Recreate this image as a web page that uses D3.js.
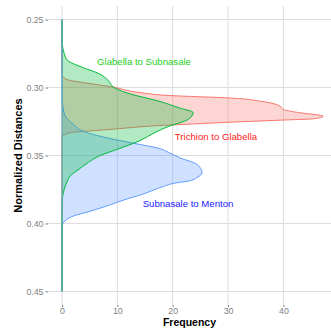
<!DOCTYPE html>
<html lang="en">
<head>
  <meta charset="UTF-8" />
  <title>Normalized distances – density</title>
  <script src="https://d3js.org/d3.v7.min.js"></script>
  <style>
    body { margin: 0; background: #fff; }
    svg { display: block; font-family: "Liberation Sans", Arial, sans-serif; }
    .tick text { fill: #7f7f7f; font-size: 8.8px; }
    .tick line { stroke: #7f7f7f; }
    .axis-title { font-weight: bold; font-size: 11px; fill: #000; }
  </style>
</head>
<body>
  <svg width="331" height="328"></svg>

  <script>
    // Glabella to Subnasale
    const glabDist = [0.25, 0.262, 0.266, 0.27, 0.275, 0.28, 0.285, 0.29, 0.295, 0.30, 0.305, 0.31, 0.315, 0.3184, 0.3235, 0.3287, 0.3331, 0.339, 0.3456, 0.35, 0.355, 0.36, 0.365, 0.37, 0.375, 0.38, 0.385, 0.39, 0.395, 0.45];
    const glabFreq = [0, 0, 0.03, 0.12, 0.4, 1.0, 3.6, 6.8, 8.4, 9.4, 12.6, 17.5, 21.2, 23.7, 22.8, 19.2, 16.8, 14.1, 9.9, 6.9, 4.8, 3.1, 1.5, 0.85, 0.4, 0.12, 0.04, 0.01, 0, 0];

    // Trichion to Glabella
    const trichDist = [0.25, 0.288, 0.2905, 0.2917, 0.2941, 0.2971, 0.2995, 0.3037, 0.3059, 0.3077, 0.31, 0.3118, 0.3138, 0.3162, 0.3182, 0.3211, 0.323, 0.324, 0.3255, 0.3268, 0.3278, 0.3289, 0.3304, 0.3318, 0.3329, 0.3345, 0.3368, 0.45];
    const trichFreq = [0, 0, 0.03, 0.15, 0.9, 5.1, 9.0, 14.1, 19.5, 30.4, 35.8, 38.2, 39.4, 40, 42.4, 47.2, 45.4, 39.4, 30.4, 23.7, 18.3, 14.1, 9.9, 5.5, 2.0, 0.6, 0, 0];

    // Subnasale to Menton
    const subDist = [0.25, 0.305, 0.31, 0.315, 0.3211, 0.327, 0.3321, 0.337, 0.3419, 0.3445, 0.348, 0.3517, 0.3566, 0.3627, 0.3662, 0.3689, 0.3701, 0.3725, 0.375, 0.3786, 0.3824, 0.386, 0.391, 0.3946, 0.3983, 0.402, 0.405, 0.45];
    const subFreq = [0, 0, 0.05, 0.2, 0.6, 2.0, 3.8, 8.1, 14.1, 17.3, 19.4, 21.3, 24.4, 25.3, 24.4, 22.8, 20.7, 18.5, 16.8, 14.5, 11.4, 8.9, 5.1, 2.0, 0.5, 0.05, 0, 0];

    const xTicks = [0, 10, 20, 30, 40];
    const yTicks = [0.25, 0.30, 0.35, 0.40, 0.45];

    const series = [
      { name: "Trichion to Glabella", dist: trichDist, freq: trichFreq, color: "#F8766D", labelColor: "#ff1a1a", lx: 216, ly: 136 },
      { name: "Subnasale to Menton", dist: subDist, freq: subFreq, color: "#619CFF", labelColor: "#1a1aff", lx: 188, ly: 203 },
      { name: "Glabella to Subnasale", dist: glabDist, freq: glabFreq, color: "#00BA38", labelColor: "#1ecf1e", lx: 144, ly: 61 }
    ];

    const svg = d3.select("svg");
    const panel = { left: 48, right: 331, top: 6, bottom: 305 };

    const x = d3.scaleLinear().domain([-2.53, 48.6]).range([panel.left, panel.right]);
    const y = d3.scaleLinear().domain([0.24, 0.46]).range([panel.top, panel.bottom]);

    // grid
    const grid = svg.append("g");
    grid.selectAll(".gx").data(xTicks).enter().append("line")
      .attr("x1", d => x(d)).attr("x2", d => x(d))
      .attr("y1", panel.top).attr("y2", panel.bottom)
      .attr("stroke", "#dcdcdc").attr("stroke-width", 1);
    grid.selectAll(".gy").data(yTicks).enter().append("line")
      .attr("x1", panel.left).attr("x2", panel.right)
      .attr("y1", d => y(d)).attr("y2", d => y(d))
      .attr("stroke", "#dcdcdc").attr("stroke-width", 1);

    // densities
    const area = d3.area()
      .y(d => y(d[0]))
      .x0(x(0))
      .x1(d => x(d[1]))
      .curve(d3.curveMonotoneY);
    const outline = d3.line()
      .y(d => y(d[0]))
      .x(d => x(d[1]))
      .curve(d3.curveMonotoneY);

    series.forEach(s => {
      const pts = s.dist.map((d, i) => [d, s.freq[i]]);
      svg.append("path")
        .attr("d", area(pts))
        .attr("fill", s.color)
        .attr("fill-opacity", 0.3)
        .attr("stroke", "none");
      svg.append("path")
        .attr("d", outline(pts))
        .attr("fill", "none")
        .attr("stroke", s.color)
        .attr("stroke-width", 1);
    });

    // shared zero baseline of the three densities
    svg.append("line")
      .attr("x1", x(0)).attr("x2", x(0))
      .attr("y1", y(0.25)).attr("y2", y(0.45))
      .attr("stroke", "#5ea9b4")
      .attr("stroke-width", 1.2);

    // labels
    series.forEach(s => {
      svg.append("text")
        .attr("x", s.lx).attr("y", s.ly)
        .attr("text-anchor", "middle")
        .attr("dominant-baseline", "central")
        .attr("font-size", 9.6)
        .attr("fill", s.labelColor)
        .text(s.name);
    });

    // axes
    const xAxis = svg.append("g")
      .attr("transform", `translate(0,${panel.bottom})`)
      .call(d3.axisBottom(x).tickValues(xTicks).tickSize(2).tickPadding(0.5).tickFormat(d3.format("d")));
    xAxis.select(".domain").remove();

    const yAxis = svg.append("g")
      .attr("transform", `translate(${panel.left},0)`)
      .call(d3.axisLeft(y).tickValues(yTicks).tickSize(2.5).tickPadding(2).tickFormat(d3.format(".2f")));
    yAxis.select(".domain").remove();

    svg.append("text")
      .attr("class", "axis-title")
      .attr("x", (panel.left + panel.right) / 2)
      .attr("y", 325.5)
      .attr("font-size", 10.5)
      .style("font-size", "10.5px")
      .attr("text-anchor", "middle")
      .text("Frequency");

    svg.append("text")
      .attr("class", "axis-title")
      .attr("transform", `translate(18,${(panel.top + panel.bottom) / 2}) rotate(-90)`)
      .attr("text-anchor", "middle")
      .attr("dominant-baseline", "central")
      .text("Normalized Distances");
  </script>
</body>
</html>
